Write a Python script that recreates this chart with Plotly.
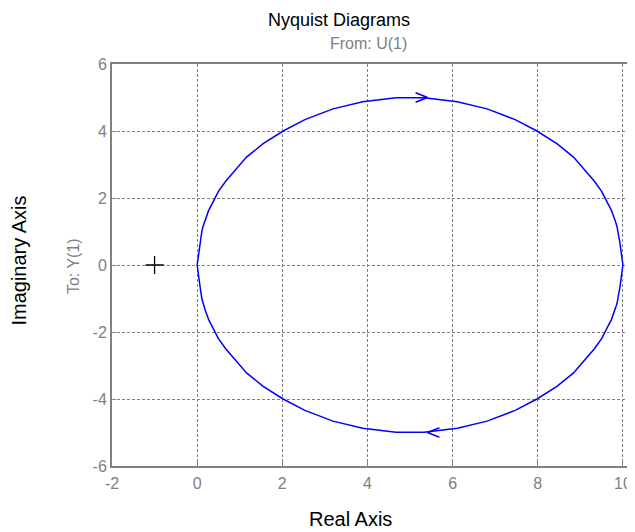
import plotly.graph_objects as go

# Positive-frequency branch of the Nyquist curve (w: 0 -> inf)
re_pos = [10.0, 9.97, 9.93, 9.86, 9.81, 9.73, 9.62, 9.50, 9.33, 8.84, 8.45, 7.98,
          7.47, 6.81, 6.11, 5.33, 4.67, 3.89, 3.19, 2.53, 2.02, 1.55, 1.16, 0.67,
          0.50, 0.38, 0.27, 0.19, 0.14, 0.11, 0.07, 0.03, 0.0]
im_pos = [0.0, -0.31, -0.66, -1.16, -1.35, -1.63, -1.90, -2.20, -2.50, -3.22, -3.62, -4.00,
          -4.34, -4.66, -4.87, -4.99, -4.99, -4.87, -4.66, -4.34, -4.00, -3.62, -3.22, -2.50,
          -2.20, -1.90, -1.63, -1.35, -1.16, -1.00, -0.66, -0.31, 0.0]

# Negative-frequency branch is the mirror image (complex conjugate), w: -inf -> 0
re_neg = list(reversed(re_pos))
im_neg = [-v for v in reversed(im_pos)]

# Direction arrows (tip positions) and the critical point
arrow_tip_x = [5.41, 5.41]
arrow_tip_y = [5.0, -5.0]
arrow_dir = [1, -1]          # +1 points right, -1 points left
crit_x = [-1]
crit_y = [0]

x_ticks = [-2, 0, 2, 4, 6, 8, 10]
y_ticks = [-6, -4, -2, 0, 2, 4, 6]

BLUE = "#0000ff"
GRAY = "#808080"
FONT = "Liberation Sans, Arial, sans-serif"

fig = go.Figure()
fig.add_trace(go.Scatter(x=re_neg + [None] + re_pos, y=im_neg + [None] + im_pos,
                         mode="lines", line=dict(color=BLUE, width=1.5),
                         showlegend=False, hoverinfo="skip"))

# arrowheads as open V shapes (sizes in data units)
dx, dy = 0.28, 0.14
ax, ay = [], []
for tx, ty, d in zip(arrow_tip_x, arrow_tip_y, arrow_dir):
    ax += [tx - d * dx, tx, tx - d * dx, None]
    ay += [ty + dy, ty, ty - dy, None]
fig.add_trace(go.Scatter(x=ax, y=ay, mode="lines", line=dict(color=BLUE, width=1.5),
                         showlegend=False, hoverinfo="skip"))

fig.add_trace(go.Scatter(x=crit_x, y=crit_y, mode="markers",
                         marker=dict(symbol="cross-thin", size=13,
                                     line=dict(color="black", width=1.3)),
                         showlegend=False, hoverinfo="skip"))

axis_common = dict(showgrid=True, gridcolor=GRAY, griddash="3px,2px", gridwidth=1,
                   zeroline=False, showline=True, linecolor=GRAY, linewidth=2,
                   mirror=True, ticks="inside", ticklen=4, tickcolor=GRAY,
                   tickfont=dict(family=FONT, size=16, color=GRAY))

fig.update_xaxes(range=[-2, 10.19], tickvals=x_ticks, ticktext=[str(v) for v in x_ticks],
                 ticklabelstandoff=2, **axis_common)
fig.update_yaxes(range=[-6, 6], tickvals=y_ticks, ticktext=[str(v) for v in y_ticks],
                 **axis_common)

annots = [
    dict(text="Nyquist Diagrams", x=0.4376, y=1.109, font=dict(size=18, color="black")),
    dict(text="From: U(1)", x=0.495, y=1.05, font=dict(size=16, color=GRAY)),
    dict(text="Real Axis", x=0.459, y=-0.132, font=dict(size=20, color="black")),
    dict(text="Imaginary Axis", x=-0.18, y=0.51, textangle=-90, font=dict(size=20, color="black")),
    dict(text="To: Y(1)", x=-0.075, y=0.4975, textangle=-90, font=dict(size=16, color=GRAY)),
]
for a in annots:
    a["font"]["family"] = FONT
    fig.add_annotation(xref="paper", yref="paper", showarrow=False,
                       xanchor="center", yanchor="middle", **a)

# the page adds an 8 px body margin, so the figure is sized to fit the window
fig.update_layout(width=627, height=524, margin=dict(l=104, r=2, t=56, b=66),
                  plot_bgcolor="white", paper_bgcolor="white")

fig.write_html("out.html")
